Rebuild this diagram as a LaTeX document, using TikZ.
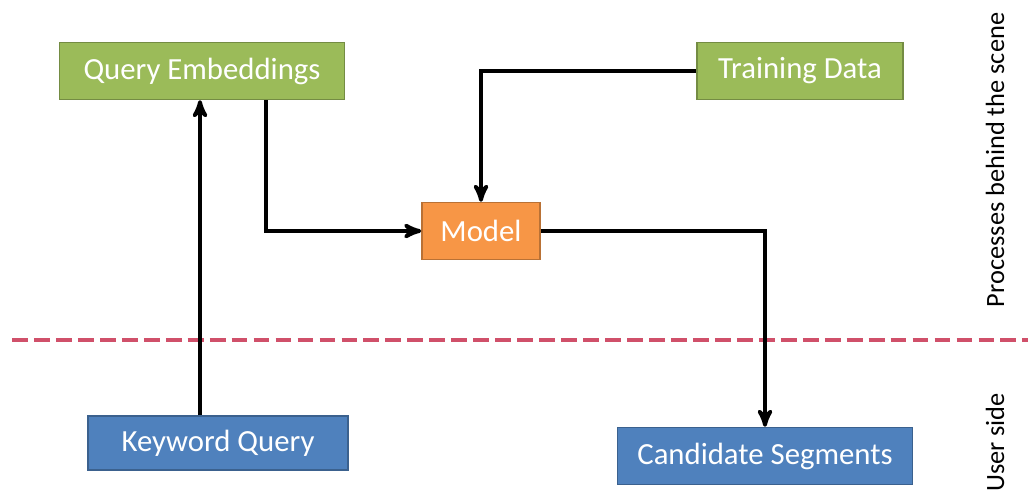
\documentclass[tikz,border=0pt]{standalone}
\usepackage{fontspec}
\setmainfont{Carlito}
\usepackage{tikz}
\usetikzlibrary{arrows}

\definecolor{boxgreen}{HTML}{9BBB59}
\definecolor{boxorange}{HTML}{F79646}
\definecolor{boxblue}{HTML}{4F81BD}
\definecolor{splitred}{HTML}{D0506A}

\tikzset{
  block/.style={draw, line width=0.8pt, text=white, font=\fontsize{17.5}{20}\selectfont,
    minimum height=1.14cm, inner sep=2pt},
  greenbox/.style={block, fill=boxgreen, draw=boxgreen!75!black},
  orangebox/.style={block, fill=boxorange, draw=boxorange!75!black},
  bluebox/.style={block, fill=boxblue, draw=boxblue!75!black},
  flow/.style={->, >=stealth', line width=2.2pt, black},
  sidelabel/.style={rotate=90, font=\fontsize{15}{18}\selectfont}
}

\begin{document}
\begin{tikzpicture}

        \useasboundingbox (0,0) rectangle (20.56,9.8);

        \node [greenbox, minimum width=5.7cm] (queryemb) at (4.04,8.38) {Query Embeddings};
        \node [greenbox, minimum width=4.12cm] (traindata) at (16.0,8.38) {Training Data};
        \node [orangebox, minimum width=2.36cm] (model) at (9.62,5.18) {Model};
        \node [bluebox, minimum width=5.2cm, minimum height=1.08cm] (keyquery) at (4.36,0.94) {Keyword Query};
        \node [bluebox, minimum width=5.9cm] (candseg) at (15.3,0.68) {Candidate Segments};

        % user side / hidden side split
        \draw [splitred, line width=2.2pt, dash pattern=on 9pt off 3.5pt] (0.24,3.0) -- (20.56,3.0);

        \node [sidelabel] (behind) at (19.9,6.6) {Processes behind the scene};
        \node [sidelabel] (userside) at (19.9,0.95) {User side};

        \draw [flow] ([xshift=-0.36cm]keyquery.north) -- ([xshift=-0.36cm]keyquery.north |- queryemb.south);
        \draw [flow] ([xshift=1.28cm]queryemb.south) |- (model.west);
        \draw [flow] (traindata.west) -| (model.north);
        \draw [flow] (model.east) -| (candseg.north);

\end{tikzpicture}
\end{document}
